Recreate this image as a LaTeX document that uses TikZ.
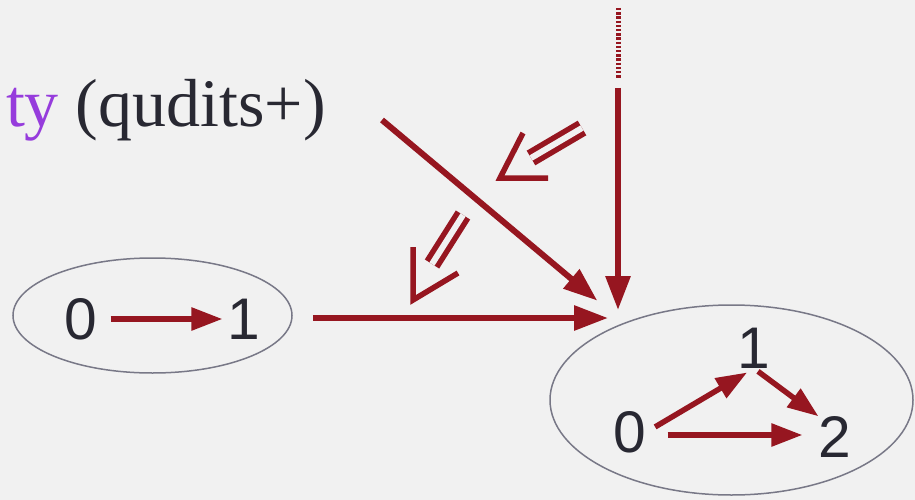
\documentclass[tikz,border=0pt]{standalone}
\usepackage{fontspec}
\setmainfont{Liberation Serif}
\newfontfamily\digitfont{Liberation Sans}
\usepackage{xcolor}
\usetikzlibrary{arrows.meta, shapes.geometric}

\definecolor{arrowred}{RGB}{150,22,32}
\definecolor{tyviolet}{RGB}{150,60,220}
\definecolor{setgray}{RGB}{120,120,135}
\definecolor{slidebg}{RGB}{241,241,241}
\definecolor{inkgray}{RGB}{40,40,50}

\begin{document}
\begin{tikzpicture}[x=1pt, y=-1pt,
  digit/.style={inner sep=0pt, font=\digitfont\fontsize{58.7}{60}\selectfont, text=inkgray},
  set/.style={draw=setgray, line width=1.5pt, ellipse, inner sep=0pt},
  bigarrow/.style={draw=arrowred, line width=6pt, -{Triangle[length=34pt, width=24pt]}},
  smallarrow/.style={draw=arrowred, line width=5.5pt, -{Triangle[length=31pt, width=22pt]}},
  impl/.style={draw=arrowred, line width=5.5pt, double=slidebg, double distance=6pt},
  implhead/.style={draw=arrowred, line width=5.5pt, line join=miter},
]

% background
\fill[slidebg] (0,0) rectangle (915,500);
\useasboundingbox (0,0) rectangle (915,500);

% label
\node[anchor=base east, inner sep=0pt, font=\fontsize{68}{70}\selectfont, text=inkgray] (quditlabel) at (326,127) {\textcolor{tyviolet}{ty} (qudits+)};

% sets
\node[set, minimum width=279pt, minimum height=115pt] (leftset) at (152.5,315.5) {};
\node[set, minimum width=363pt, minimum height=190pt] (rightset) at (731.5,400) {};

% digits
\node[digit] (l0) at (81,319) {0};
\node[digit] (l1) at (244,319) {1};
\node[digit] (r0) at (630,432) {0};
\node[digit] (r1) at (754,348) {1};
\node[digit] (r2) at (835,437) {2};

% arrows inside the sets
\draw[smallarrow, shorten <=13pt, shorten >=5pt] (l0) -- (l1);
\draw[smallarrow, shorten <=10pt, shorten >=8pt] (r0.east) -- (r1.south);
\draw[smallarrow, shorten <=5pt] (r1.south) -- (r2.north west);
\draw[smallarrow, shorten <=21pt, shorten >=16pt] ([yshift=-3pt]r0.east) -- ([yshift=2pt]r2.west);

% big arrows into the right set
\coordinate (merge) at (618,318);
\coordinate (qfrom) at (382,120);
\coordinate (vtop) at (618,8);
\coordinate (vdash) at (618,79);
\coordinate (vsolid) at (618,88);
\draw[bigarrow, shorten >=27pt] (qfrom) -- (merge);
\draw[bigarrow, shorten <=20pt, shorten >=10pt] (leftset.east |- merge) -- (merge);
\draw[arrowred, line width=5pt, dash pattern=on 2.4pt off 1.8pt] (vtop) -- (vdash);
\draw[bigarrow, shorten >=8pt] (vsolid) -- (merge);

% implication arrows
\draw[impl] (582,128) -- (531,158);
\draw[implhead] (523,133) -- (500,178) -- (548,178);
\draw[impl] (463,215) -- (432,264);
\draw[implhead] (413,247) -- (413,300) -- (458,273);

\end{tikzpicture}
\end{document}
